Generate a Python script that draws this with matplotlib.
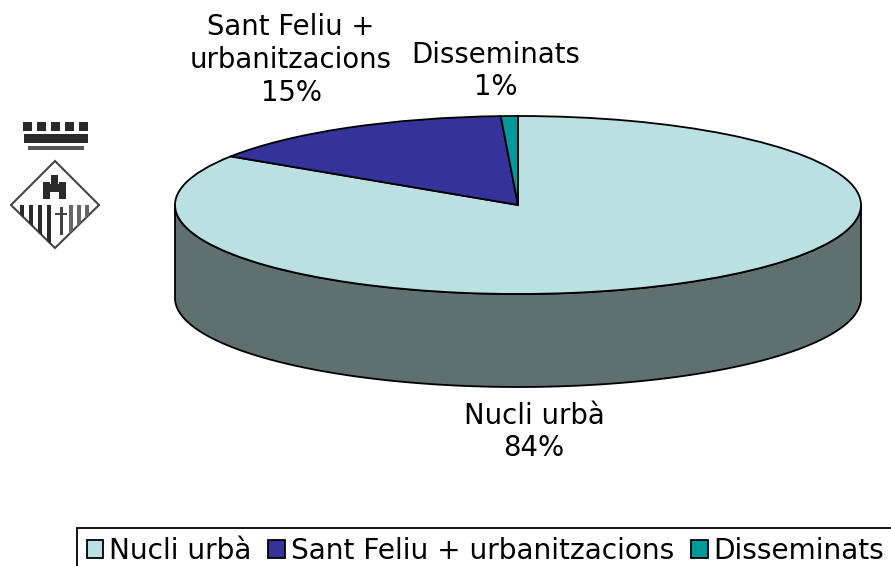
import numpy as np
import matplotlib
matplotlib.use('Agg')
import matplotlib.pyplot as plt
from matplotlib.patches import Wedge, Polygon, Rectangle, Patch
from matplotlib.transforms import Affine2D

# data
categories = ['Nucli urbà', 'Sant Feliu +\nurbanitzacions', 'Disseminats']
legend_labels = ['Nucli urbà', 'Sant Feliu + urbanitzacions', 'Disseminats']
values = [84.2, 15.0, 0.8]
colors = ['#BBE0E3', '#333399', '#009999']
side_color = '#5F7070'

W, H = 891, 566
cx, cy = 518, H - 205
rx, ry = 343, 89
depth = 93
font = 19.8


def Y(py):
    return H - py


fig = plt.figure(figsize=(W / 100, H / 100), dpi=100)
ax = fig.add_axes([0, 0, 1, 1])
ax.set_xlim(0, W)
ax.set_ylim(0, H)
ax.axis('off')

# side of the pie
t = np.radians(np.linspace(180, 360, 200))
top_edge = np.column_stack([cx + rx * np.cos(t), cy + ry * np.sin(t)])
low_edge = top_edge - [0, depth]
ax.add_patch(Polygon(np.vstack([top_edge, low_edge[::-1]]), closed=True,
                     fc=side_color, ec='black', lw=1.3, zorder=1))

# top of the pie, clockwise from 12 o'clock
tr = Affine2D().scale(rx, ry).translate(cx, cy) + ax.transData
start = 90.0
for val, col in zip(values, colors):
    sweep = val / sum(values) * 360
    ax.add_patch(Wedge((0, 0), 1, start - sweep, start, fc=col, ec='black',
                       lw=1.3, transform=tr, zorder=2))
    start -= sweep

# labels
label_pos = [(534, 432), (291, 60), (496, 71)]
for cat, val, (x, y) in zip(categories, values, label_pos):
    ax.text(x, Y(y), f'{cat}\n{val:.0f}%', ha='center', va='center', fontsize=font,
            linespacing=1.22, color='black')

# legend frame runs off the right and bottom edge like the reference
ax.add_patch(Rectangle((77, -10), W, Y(528) + 10, fc='white', ec='black', lw=1.3))
handles = [Patch(fc=c, ec='black', lw=1.3) for c in colors]
ax.legend(handles, legend_labels, ncols=3, loc='lower left',
          bbox_to_anchor=(74 / W, -0.021), fontsize=20.2, frameon=False,
          borderaxespad=0, handlelength=0.6, handleheight=0.6, handletextpad=0.2,
          columnspacing=0.6, borderpad=0.45)

# coat of arms, left of the pie
ink = '#2A2A2A'
for x in [27, 41, 55, 69, 83]:
    ax.add_patch(Rectangle((x - 4.5, Y(131)), 9, 9, fc=ink, ec='none'))
ax.add_patch(Rectangle((24, Y(143)), 64, 9, fc=ink, ec='none'))
ax.add_patch(Rectangle((28, Y(150)), 56, 4, fc='#555555', ec='none'))
diamond = Polygon([(55, Y(161)), (99, Y(205)), (55, Y(248)), (11, Y(205))],
                  closed=True, fc='white', ec='#444444', lw=1.5)
ax.add_patch(diamond)
# castle
ax.add_patch(Rectangle((43, Y(199)), 23, 15, fc=ink, ec='none'))
ax.add_patch(Rectangle((51, Y(185)), 7, 10, fc=ink, ec='none'))
ax.add_patch(Rectangle((43, Y(188)), 7, 6, fc=ink, ec='none'))
ax.add_patch(Rectangle((59, Y(188)), 7, 6, fc=ink, ec='none'))
ax.add_patch(Rectangle((50, Y(199)), 9, 7, fc='white', ec='none'))
# stripes and cross
stripes = [(22, 4.5, ink), (31, 4.5, ink), (40, 4.5, ink), (49, 4.5, ink),
           (71, 3.5, '#666666'), (79, 3.5, '#666666'), (87, 3.5, '#666666')]
for x, w, c in stripes:
    bar = Rectangle((x - w / 2, Y(248)), w, 43, fc=c, ec='none')
    ax.add_patch(bar)
    bar.set_clip_path(diamond)
ax.add_patch(Rectangle((60, Y(235)), 2.5, 28, fc='#444444', ec='none'))
ax.add_patch(Rectangle((55, Y(215)), 12, 2.5, fc='#444444', ec='none'))

fig.savefig('out.png', dpi=100)
